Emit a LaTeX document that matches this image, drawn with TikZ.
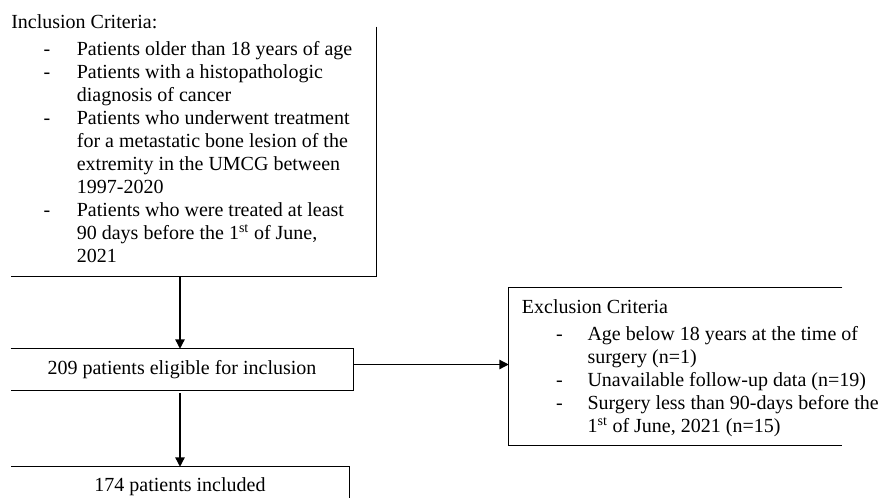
\documentclass[tikz,border=0pt]{standalone}
\usepackage{fontspec}
\setmainfont{Liberation Serif}
\usetikzlibrary{arrows.meta}

\begin{document}
\begin{tikzpicture}[x=0.75pt,y=-0.75pt,
		font=\fontsize{15pt}{17.25pt}\selectfont,
		frame/.style={line width=1pt},
		arr/.style={line width=1pt,-{Triangle[length=7pt,width=7pt]}},
		txt/.style={inner sep=0pt,anchor=base west}]
		\useasboundingbox (0,0) rectangle (883,497);
		\clip (0,0) rectangle (883,497);
		\node[minimum width=273.75pt,minimum height=186.75pt] (incl) at (193.5,151.5) {}; %inclusion
		\node[minimum width=256.5pt,minimum height=30.75pt] (elig) at (182,369.5) {209 patients eligible for inclusion}; %eligible
		\node[minimum width=249.75pt,minimum height=117.75pt] (excl) at (675.5,366.5) {}; %exclusion
		\node[minimum width=253.5pt,minimum height=30pt] (incd) at (180,487) {174 patients included}; %included
		\node[txt] (incltxt) at (11,28) {\begin{tabular}[t]{@{\hspace{24.2pt}}p{25pt}@{}l@{}}
			\multicolumn{2}{@{}l@{}}{Inclusion Criteria:}\\[3pt]
			- & Patients older than 18 years of age\\
			- & Patients with a histopathologic\\
			  & diagnosis of cancer\\
			- & Patients who underwent treatment\\
			  & for a metastatic bone lesion of the\\
			  & extremity in the UMCG between\\
			  & 1997-2020\\
			- & Patients who were treated at least\\
			  & 90 days before the 1\textsuperscript{st} of June,\\
			  & 2021
		\end{tabular}};
		\node[txt] (excltxt) at (521.7,313) {\begin{tabular}[t]{@{\hspace{25.7pt}}p{23.5pt}@{}l@{}}
			\multicolumn{2}{@{}l@{}}{Exclusion Criteria}\\[3pt]
			- & Age below 18 years at the time of\\
			  & surgery (n=1)\\
			- & Unavailable follow-up data (n=19)\\
			- & Surgery less than 90-days before the\\
			  & 1\textsuperscript{st} of June, 2021 (n=15)
		\end{tabular}};
		% cut-off box frames
		\draw[frame] (incl.north east) -- (incl.south east) -- (incl.south west);
		\draw[frame] (elig.north west) -- (elig.north east) -- (elig.south east) -- (elig.south west);
		\draw[frame] (excl.north east) -- (excl.north west) -- (excl.south west) -- (excl.south east);
		\draw[frame] (incd.south east) -- (incd.north east) -- (incd.north west);
		% arrows
		\draw[arr] (incl.south -| incd.north) -- (elig.north -| incd.north);
		\draw[arr] ([yshift=-2.25pt]elig.south -| incd.north) -- (incd.north);
		\draw[arr] ([yshift=1.5pt]elig.east |- excl.west) -- ([yshift=1.5pt]excl.west);
	\end{tikzpicture}
\end{document}
